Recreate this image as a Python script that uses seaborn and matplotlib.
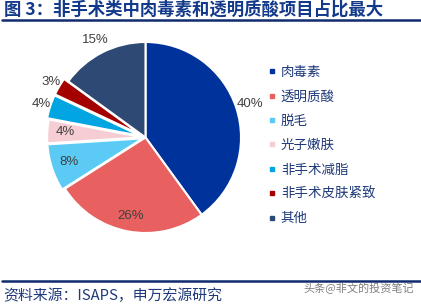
import matplotlib
matplotlib.use("Agg")
import matplotlib.pyplot as plt
from matplotlib.lines import Line2D
import numpy as np
import seaborn as sns

categories = ["肉毒素", "透明质酸", "脱毛", "光子嫩肤", "非手术减脂", "非手术皮肤紧致", "其他"]
values = [40, 26, 8, 4, 4, 3, 15]
colors = ["#00329B", "#E8605F", "#5BCBF5", "#F6CDD3", "#00A5E2", "#A50000", "#2E4A74"]
label_inside = [False, True, True, True, False, False, False]
explode = [0, 0, 0.03, 0.03, 0.05, 0.05, 0]

title = "图 3：非手术类中肉毒素和透明质酸项目占比最大"
source = "资料来源：ISAPS，申万宏源研究"
watermark = "头条@非文的投资笔记"

sns.set_theme(style="white")
plt.rcParams['font.family'] = ['Noto Sans CJK SC', 'DejaVu Sans']

W, H = 421, 305
fig = plt.figure(figsize=(W / 100, H / 100), dpi=100)
fig.patch.set_facecolor("white")

cx, cy, r = 145.5, 137.5, 95.5
ax = fig.add_axes([(cx - r) / W, 1 - (cy + r) / H, 2 * r / W, 2 * r / H])
wedges, _ = ax.pie(values, colors=colors, startangle=90, counterclock=False,
                   explode=explode, radius=1,
                   wedgeprops=dict(edgecolor="white", linewidth=1.5))
ax.set_xlim(-1, 1)
ax.set_ylim(-1, 1)
ax.set_aspect("equal")
ax.axis("off")

for w, v, inside in zip(wedges, values, label_inside):
    ang = np.deg2rad((w.theta1 + w.theta2) / 2)
    d = 0.84 if inside else 1.15
    ax.text(d * np.cos(ang), d * np.sin(ang), f"{v}%", ha="center", va="center",
            fontsize=9.5, color="#404040", family=["Liberation Sans", "DejaVu Sans"])

handles = [Line2D([0], [0], marker="s", color="none", markerfacecolor=c,
                  markeredgecolor=c, markersize=3) for c in colors]
fig.legend(handles, categories, loc="upper left", bbox_to_anchor=(268 / W, 1 - 65 / H),
           frameon=False, fontsize=9.7, labelcolor="#1F3A7A", handlelength=0.6,
           handletextpad=0.35, labelspacing=0.77, borderpad=0, borderaxespad=0)

fig.text(4 / W, 1 - 10 / H, title, fontsize=12.5, fontweight="bold", color="#133A8A",
         ha="left", va="center")
fig.add_artist(Line2D([2 / W, 1], [1 - 20 / H] * 2, color="#102C6E", linewidth=1.8))
fig.add_artist(Line2D([2 / W, 1], [1 - 281 / H] * 2, color="#102C6E", linewidth=1.8))
fig.text(3 / W, 1 - 296 / H, source, fontsize=10.7, color="#1F3A7A", ha="left", va="center")
fig.text(303 / W, 1 - 288 / H, watermark, fontsize=8, color="#808080", ha="left", va="center")

fig.savefig("out.png", dpi=100)
